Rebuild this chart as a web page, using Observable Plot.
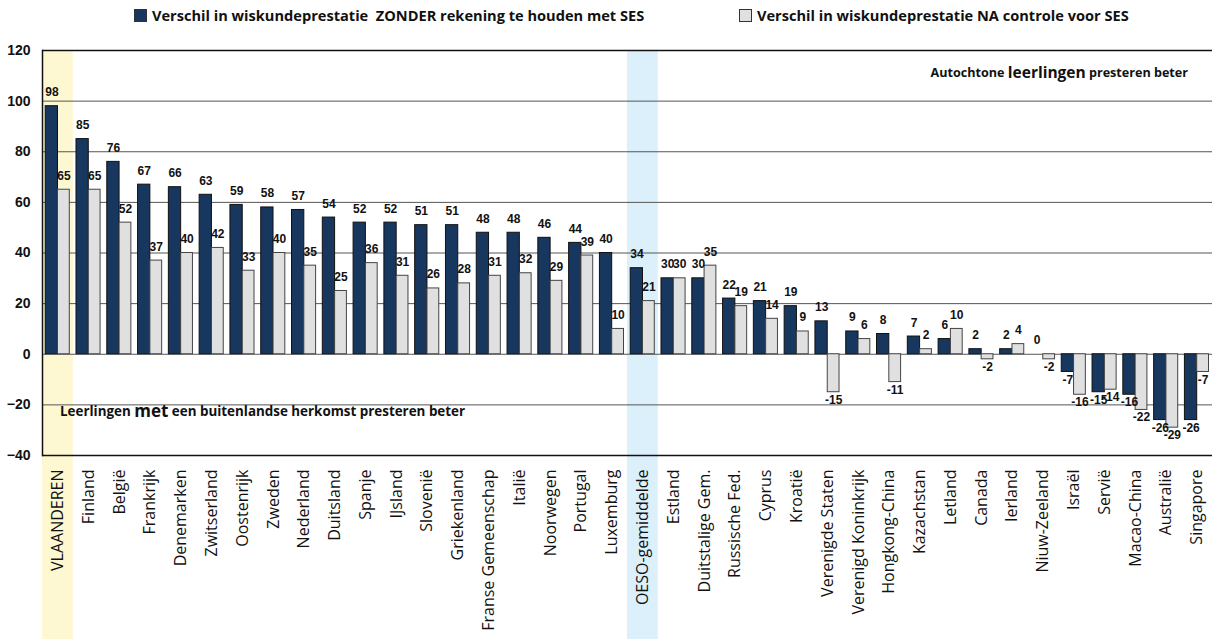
<!DOCTYPE html>
<html><head><meta charset="utf-8">
<script src="https://cdn.jsdelivr.net/npm/d3@7"></script>
<script src="https://cdn.jsdelivr.net/npm/@observablehq/plot@0.6"></script>
<style>
body{margin:0;background:#fff;width:1212px;height:639px;overflow:hidden;}
#legend{height:36px;position:relative;font-family:"Open Sans",sans-serif;font-weight:bold;font-size:14.6px;color:#111;}
.item{position:absolute;top:5px;display:flex;align-items:center;white-space:pre;}
.sw{width:11px;height:11px;border:1px solid #333;margin-right:5px;}
#chart svg{display:block;}
</style></head>
<body><div id="legend"></div><div id="chart"></div>
<script>
const categories = ["VLAANDEREN","Finland","België","Frankrijk","Denemarken","Zwitserland","Oostenrijk","Zweden","Nederland","Duitsland","Spanje","IJsland","Slovenië","Griekenland","Franse Gemeenschap","Italië","Noorwegen","Portugal","Luxemburg","OESO-gemiddelde","Estland","Duitstalige Gem.","Russische Fed.","Cyprus","Kroatië","Verenigde Staten","Verenigd Koninkrijk","Hongkong-China","Kazachstan","Letland","Canada","Ierland","Niuw-Zeeland","Israël","Servië","Macao-China","Australië","Singapore"];
const zonderSES = [98,85,76,67,66,63,59,58,57,54,52,52,51,51,48,48,46,44,40,34,30,30,22,21,19,13,9,8,7,6,2,2,0,-7,-15,-16,-26,-26];
const naSES = [65,65,52,37,40,42,33,40,35,25,36,31,26,28,31,32,29,39,10,21,30,35,19,14,9,-15,6,-11,2,10,-2,4,-2,-16,-14,-22,-29,-7];
const yTicks = [120,100,80,60,40,20,0,-20,-40];
const seriesNames = ["Verschil in wiskundeprestatie  ZONDER rekening te houden met SES","Verschil in wiskundeprestatie NA controle voor SES"];
const seriesColors = ["#17375e","#e0e0e0"];
const highlighted = ["VLAANDEREN","OESO-gemiddelde"];
const highlightColors = ["#fef8d2","#dcf0fb"];
const noteTop = ["Autochtone ","leerlingen"," presteren beter"];
const noteBottom = ["Leerlingen ","met"," een buitenlandse herkomst presteren beter"];

// legend
const legend = document.getElementById("legend");
const legendLeft = [134, 739];
seriesNames.forEach((n,i)=>{
  const it = document.createElement("div");
  it.className="item"; it.style.left = legendLeft[i]+"px";
  const sw = document.createElement("div"); sw.className="sw"; sw.style.background=seriesColors[i];
  it.appendChild(sw); it.appendChild(document.createTextNode(n));
  legend.appendChild(it);
});

const rows = categories.map((c,i)=>({c, a:zonderSES[i], b:naSES[i]}));
const hl = highlighted.map((c,i)=>({c, color:highlightColors[i]}));
const yMax = d3.max(yTicks), yMin = d3.min(yTicks);

const labelFont = {fontFamily:"Liberation Sans, Arial, sans-serif", fontWeight:"bold", fontSize:12, fill:"#111"};

const chart = Plot.plot({
  width:1212, height:603,
  marginTop:14, marginBottom:184, marginLeft:42, marginRight:0,
  style:{fontFamily:"Open Sans, sans-serif", background:"#fff"},
  x:{domain:categories, padding:0, label:null, axis:null},
  y:{domain:[yMin,yMax], label:null, axis:null},
  marks:[
    Plot.barY(hl, {x:"c", y1:()=>yMax, y2:()=>yMin, fill:"color", insetBottom:-184}),
    Plot.ruleY(yTicks, {stroke:d=>(d===yMax||d===yMin)?"#111":"#555", strokeWidth:d=>(d===yMax||d===yMin)?1.5:1}),
    Plot.frame({anchor:"left", stroke:"#111", strokeWidth:1.5}),
    Plot.axisY({ticks:yTicks, tickSize:0, tickPadding:12, fontSize:14, fontWeight:"bold", fontFamily:"Liberation Sans, Arial, sans-serif", fill:"#111", label:null}),
    Plot.axisX({tickRotate:-90, tickSize:0, tickPadding:14, fontSize:16, fill:"#111", label:null}),
    Plot.barY(rows, {x:"c", y:"a", fill:seriesColors[0], stroke:"#111", strokeWidth:1, insetLeft:3.2, insetRight:15.3}),
    Plot.barY(rows, {x:"c", y:"b", fill:seriesColors[1], stroke:"#444", strokeWidth:1, insetLeft:15.5, insetRight:3.5}),
    Plot.text(rows.filter(d=>d.a>=0), {x:"c", y:"a", text:d=>String(d.a), dx:-6, dy:-10, lineAnchor:"bottom", ...labelFont}),
    Plot.text(rows.filter(d=>d.a<0), {x:"c", y:"a", text:d=>String(d.a), dx:-6, dy:3, lineAnchor:"top", ...labelFont}),
    Plot.text(rows.filter(d=>d.b>=0), {x:"c", y:"b", text:d=>String(d.b), dx:6, dy:-10, lineAnchor:"bottom", ...labelFont}),
    Plot.text(rows.filter(d=>d.b<0), {x:"c", y:"b", text:d=>String(d.b), dx:6, dy:3, lineAnchor:"top", ...labelFont})
  ]
});
document.getElementById("chart").appendChild(chart);

// annotations
const svg = d3.select(chart);
const ys = chart.scale("y");
function note(parts, x, yVal, anchor, small, big){
  const t = svg.append("text").attr("x", x).attr("y", ys.apply(yVal)).attr("text-anchor", anchor)
    .attr("dominant-baseline","middle")
    .style("font-family","Open Sans, sans-serif").style("font-weight","bold").style("fill","#111");
  parts.forEach((p,i)=>t.append("tspan").text(p).style("font-size", i===1?big:small));
}
note(noteTop, 1188, 110.5, "end", "12.6px", "15.5px");
note(noteBottom, 60, -23, "start", "13.4px", "17px");
</script>
</body></html>
